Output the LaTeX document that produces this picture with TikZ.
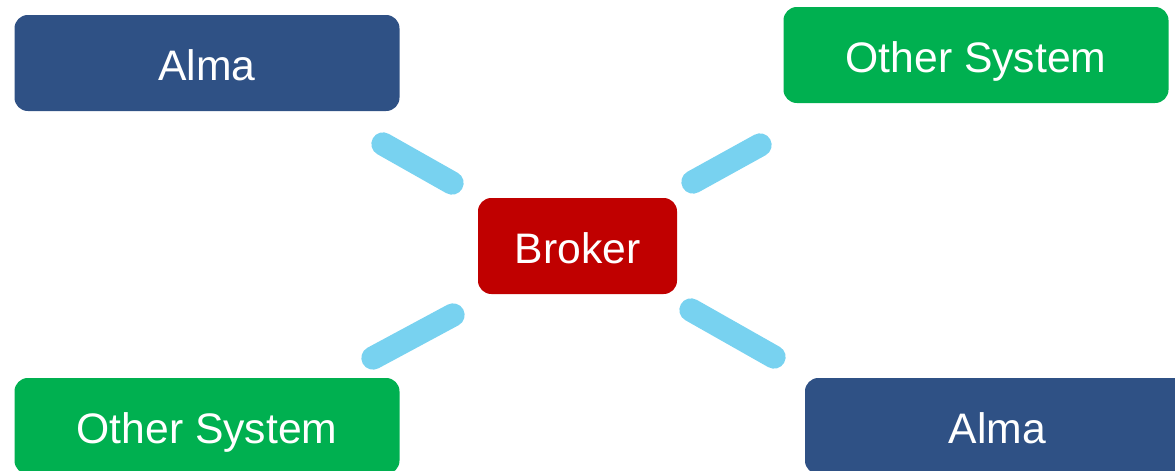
\documentclass[tikz,border=0pt]{standalone}
\usepackage{fontspec}
\setmainfont{Liberation Sans}
\definecolor{almablue}{HTML}{2F5185}
\definecolor{othergreen}{HTML}{00B050}
\definecolor{brokerred}{HTML}{C00000}
\definecolor{linkblue}{HTML}{78D2F0}

\begin{document}
\begin{tikzpicture}[x=0.75pt,y=0.75pt,yscale=-1,xscale=1,
    sysbox/.style={rounded corners=10pt, minimum width=288.75pt, minimum height=72pt, inner sep=0pt, text=white, font=\fontsize{32}{38}\selectfont, text height=25.6pt, text depth=0pt},
    almabox/.style={sysbox, fill=almablue},
    otherbox/.style={sysbox, fill=othergreen},
    brokerbox/.style={sysbox, fill=brokerred, minimum width=149.25pt},
    link/.style={draw=linkblue, line width=17.5pt, line cap=round}]
                \useasboundingbox (0,0) rectangle (1175,471);
                \node [almabox] (almaA) at (207,63) {Alma};
                \node [otherbox] (otherA) at (976,55) {Other System};
                \node [brokerbox] (broker) at (577.5,246) {Broker};
                \node [otherbox] (otherB) at (207,426) {Other System};
                \node [almabox] (almaB) at (997.5,426) {Alma};
                \coordinate (almaA-out) at (383,144);
                \coordinate (almaA-in) at (452,183);
                \coordinate (otherA-out) at (760,145);
                \coordinate (otherA-in) at (693,182);
                \coordinate (otherB-out) at (373,358);
                \coordinate (otherB-in) at (453,315);
                \coordinate (almaB-out) at (774,357);
                \coordinate (almaB-in) at (691,310);
                \draw [link] (almaA-out) -- (almaA-in);
                \draw [link] (otherA-out) -- (otherA-in);
                \draw [link] (otherB-out) -- (otherB-in);
                \draw [link] (almaB-out) -- (almaB-in);
            \end{tikzpicture}
\end{document}
